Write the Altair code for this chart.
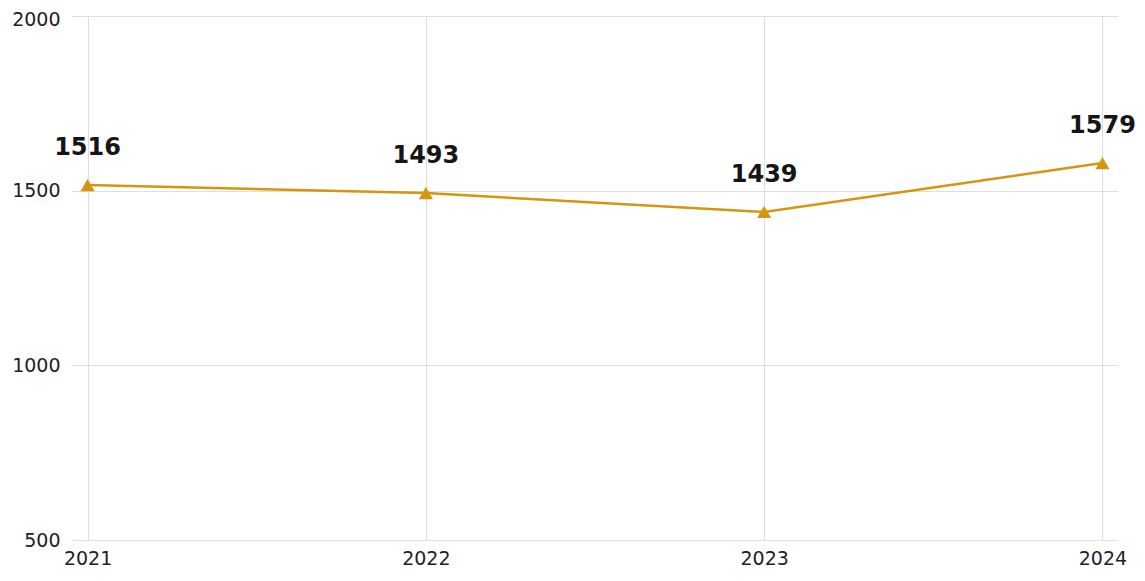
import altair as alt
import pandas as pd

years = ["2021", "2022", "2023", "2024"]
values = [1516, 1493, 1439, 1579]
y_ticks = [500, 1000, 1500, 2000]

df = pd.DataFrame({"year": years, "value": values})

x = alt.X("year:O", title=None,
          scale=alt.Scale(type="point", padding=0.046),
          axis=alt.Axis(labelAngle=0, labelFont="DejaVu Sans", labelFontSize=19,
                        labelColor="#222", labelPadding=9, ticks=False, domain=False,
                        grid=True, gridColor="#e2dcdc", gridWidth=1))
y = alt.Y("value:Q", title=None,
          scale=alt.Scale(domain=[500, 2000], nice=False, zero=False),
          axis=alt.Axis(values=y_ticks, format="d", labelFont="DejaVu Sans", labelFontSize=19,
                        labelColor="#222", labelPadding=12, ticks=False, domain=False,
                        labelOffset={"condition": {"test": "datum.value == 2000", "value": 3}, "value": 0},
                        grid=True, gridColor="#e2dcdc", gridWidth=1))

base = alt.Chart(df).encode(x=x, y=y)

line = base.mark_line(color="#D4960F", strokeWidth=2.5)
pts = base.mark_point(shape="triangle-up", filled=True, color="#D4960F", size=200, opacity=1)
labels = base.mark_text(font="DejaVu Sans", fontWeight="bold", fontSize=24,
                        color="#151515", dy=-37, baseline="middle").encode(text="value:Q")

chart = (line + pts + labels).properties(
    width=1046, height=524,
    autosize=alt.AutoSizeParams(type="none"),
    padding={"left": 64, "top": 8, "right": 18, "bottom": 29},
).configure(background="white").configure_view(stroke=None)

chart.save("out.html", embed_options={"renderer": "svg", "actions": False})
